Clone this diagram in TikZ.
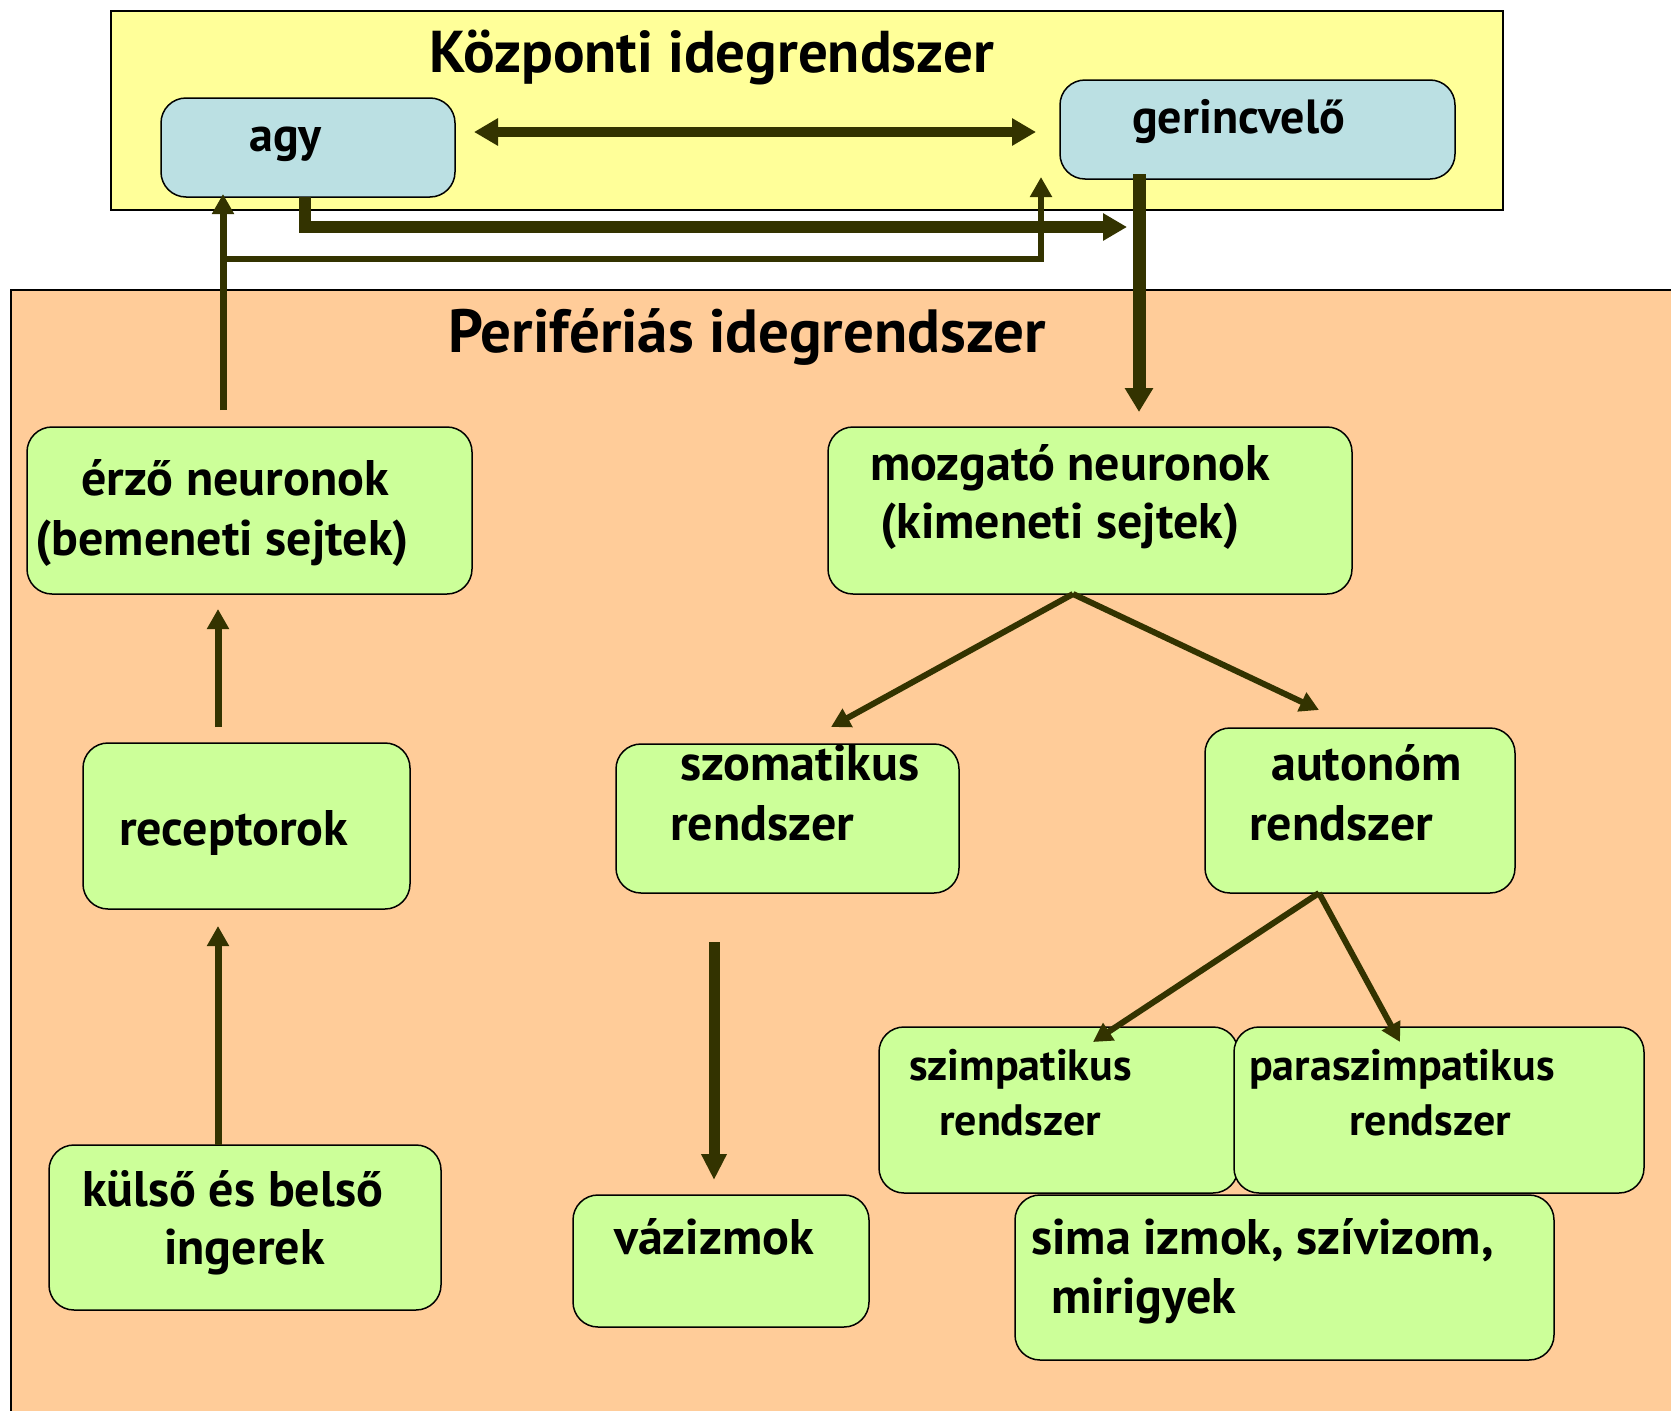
\documentclass[tikz,border=0pt]{standalone}
\usepackage{fontspec}
\setmainfont{PT Sans}
\usetikzlibrary{arrows.meta}
\definecolor{ylw}{HTML}{FFFF99}
\definecolor{blu}{HTML}{BBE0E3}
\definecolor{pch}{HTML}{FFCC99}
\definecolor{grn}{HTML}{CCFF99}
\definecolor{olv}{HTML}{333300}
\tikzset{
  box/.style={draw=black, line width=1.5pt, rounded corners=25pt, inner sep=0pt},
  gbox/.style={box, fill=grn},
  bbox/.style={box, fill=blu},
  ttl/.style={anchor=base west, inner sep=0pt, font=\bfseries\fontsize{60}{66}\selectfont},
  tbig/.style={anchor=base west, inner sep=0pt, font=\bfseries\fontsize{50}{56}\selectfont},
  tmid/.style={anchor=base west, inner sep=0pt, font=\bfseries\fontsize{48}{54}\selectfont},
  tsml/.style={anchor=base west, inner sep=0pt, font=\bfseries\fontsize{44}{50}\selectfont},
  fatarrow/.style={draw=olv, line width=12pt, line join=miter, -{Triangle[width=26pt,length=24pt]}},
  medarrow/.style={draw=olv, line width=7pt, line join=miter, -{Triangle[width=21pt,length=20pt]}},
  thinarrow/.style={draw=olv, line width=6pt, -{Triangle[width=20pt,length=19pt]}},
}
\begin{document}
\begin{tikzpicture}[x=1pt,y=-1pt]
\path[use as bounding box, fill=white] (0,0) rectangle (1671,1411);
\clip (0,0) rectangle (1671,1411);
% regions
\path[fill=ylw, draw=black, line width=1.5pt] (111,11) rectangle (1503,210);
\path[fill=pch, draw=black, line width=1.5pt] (11,290) rectangle (1700,1440);
% boxes
\node[bbox, minimum width=294pt, minimum height=99pt] (agy) at (308,147.5) {};
\node[bbox, minimum width=395pt, minimum height=99pt] (ger) at (1257.5,129.5) {};
\node[gbox, minimum width=445pt, minimum height=167pt] (erzo) at (249.5,510.5) {};
\node[gbox, minimum width=327pt, minimum height=166pt] (rec) at (246.5,826) {};
\node[gbox, minimum width=392pt, minimum height=165pt] (kul) at (245,1227.5) {};
\node[gbox, minimum width=524pt, minimum height=167pt] (moz) at (1090,510.5) {};
\node[gbox, minimum width=343pt, minimum height=149pt] (szom) at (787.5,818.5) {};
\node[gbox, minimum width=310pt, minimum height=165pt] (aut) at (1360,810.5) {};
\node[gbox, minimum width=359pt, minimum height=166pt] (szimp) at (1058.5,1110) {};
\node[gbox, minimum width=410pt, minimum height=166pt] (para) at (1439,1110) {};
\node[gbox, minimum width=296pt, minimum height=132pt] (vaz) at (721,1261) {};
\node[gbox, minimum width=539pt, minimum height=165pt] (sima) at (1284.5,1277.5) {};
% texts
\node[ttl, font=\bfseries\fontsize{59}{65}\selectfont] (t1) at (429,72) {Központi idegrendszer};
\node[ttl, font=\bfseries\fontsize{61}{67}\selectfont] (t2) at (448,352) {Perifériás idegrendszer};
\node[tmid] (tagy) at (249,151) {agy};
\node[tmid] (tger) at (1132,133) {gerincvelő};
\node[tbig] (te1) at (81,495) {érző neuronok};
\node[tbig] (te2) at (35,555) {(bemeneti sejtek)};
\node[tbig] (tm1) at (870,480) {mozgató neuronok};
\node[tbig] (tm2) at (880,538) {(kimeneti sejtek)};
\node[tbig] (tr) at (119,845) {receptorok};
\node[tbig] (ts1) at (680,780) {szomatikus};
\node[tbig] (ts2) at (670,840) {rendszer};
\node[tbig] (ta1) at (1271,780) {autonóm};
\node[tbig] (ta2) at (1249,840) {rendszer};
\node[tsml] (tz1) at (909,1080) {szimpatikus};
\node[tsml] (tz2) at (939,1135) {rendszer};
\node[tsml] (tp1) at (1249,1080) {paraszimpatikus};
\node[tsml] (tp2) at (1349,1135) {rendszer};
\node[tbig] (tk1) at (82,1206) {külső és belső};
\node[tbig] (tk2) at (164,1264) {ingerek};
\node[tbig] (tv) at (614,1254) {vázizmok};
\node[tbig] (tsi1) at (1031,1254) {sima izmok, szívizom,};
\node[tbig] (tsi2) at (1051,1313) {mirigyek};
% connector coordinates
\coordinate (c1) at (474,132);
\coordinate (c2) at (1036,132);
\coordinate (agyb) at (305,197);
\coordinate (bend1) at (305,227);
\coordinate (c3) at (1127,227);
\coordinate (erzot) at (223,410);
\coordinate (agytip) at (223,194);
\coordinate (br1) at (223,259);
\coordinate (br2) at (1041,259);
\coordinate (br3) at (1041,177);
\coordinate (rect) at (218,727);
\coordinate (erzob) at (218,609);
\coordinate (kult) at (218,1145);
\coordinate (recb) at (218,926);
\coordinate (gerb) at (1139,174);
\coordinate (mozt) at (1139,412);
\coordinate (mozb) at (1073,594);
\coordinate (szomt) at (831,727);
\coordinate (autt) at (1319,710);
\coordinate (autb) at (1319,893);
\coordinate (szimpt) at (1093,1042);
\coordinate (parat) at (1400,1042);
\coordinate (vazs) at (714,942);
\coordinate (vazt) at (714,1180);
% connectors
\draw[draw=olv, line width=10pt, {Triangle[width=26pt,length=24pt]}-{Triangle[width=26pt,length=24pt]}] (c1) -- (c2);
\draw[fatarrow] (agyb) -- (bend1) -- (c3);
\draw[medarrow] (erzot) -- (agytip);
\draw[draw=olv, line width=6pt, line join=miter, -{Triangle[width=21pt,length=20pt]}] (br1) -- (br2) -- (br3);
\draw[medarrow] (rect) -- (erzob);
\draw[medarrow] (kult) -- (recb);
\draw[draw=olv, line width=13pt, -{Triangle[width=27pt,length=24pt]}] (gerb) -- (mozt);
\draw[thinarrow] (mozb) -- (szomt);
\draw[thinarrow] (mozb) -- (autt);
\draw[thinarrow] (autb) -- (szimpt);
\draw[thinarrow] (autb) -- (parat);
\draw[draw=olv, line width=11pt, -{Triangle[width=24pt,length=26pt]}] (vazs) -- (vazt);
\end{tikzpicture}
\end{document}
